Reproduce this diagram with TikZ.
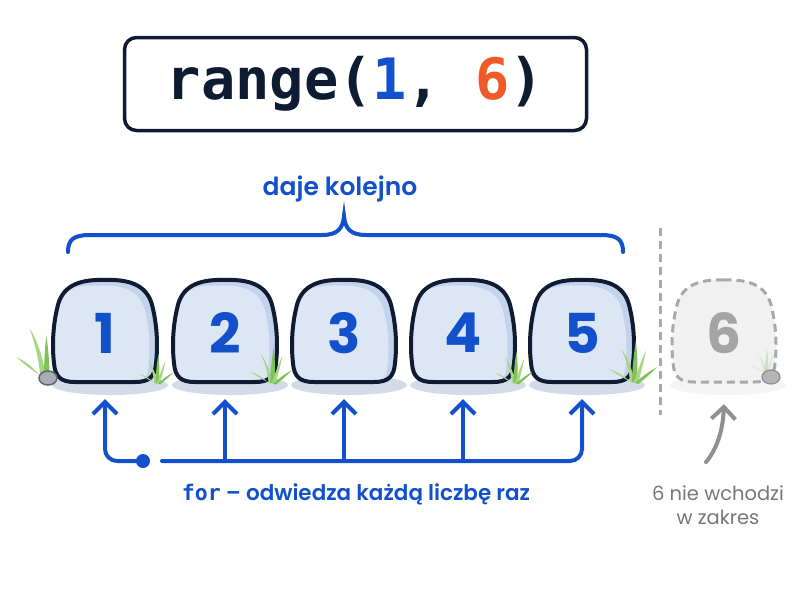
\documentclass[tikz,border=0pt]{standalone}
\usepackage{fontspec}
\setmainfont{Poppins}[BoldFont={Poppins SemiBold}]
\newfontfamily\popbold{Poppins Bold}
\newfontfamily\mono{DejaVu Sans Mono}
\usetikzlibrary{arrows.meta}
\definecolor{navy}{HTML}{0F1A33}
\definecolor{myblue}{HTML}{1250CC}
\definecolor{myorange}{HTML}{EE5A28}
\definecolor{stonelight}{HTML}{DCE6F5}
\definecolor{stonedark}{HTML}{C4D3EC}
\definecolor{shadowc}{HTML}{D3DBE8}
\definecolor{grassc}{HTML}{A8D681}
\definecolor{grassd}{HTML}{80C25A}
\definecolor{ghostfill}{HTML}{F1F1F1}
\definecolor{ghostline}{HTML}{A9A9A9}
\definecolor{ghosttext}{HTML}{A4A4A4}
\definecolor{greytext}{HTML}{777777}
\definecolor{pebblea}{HTML}{A9ADB3}
\definecolor{pebbleaedge}{HTML}{62666D}
\definecolor{pebbleb}{HTML}{B5B5B5}
\definecolor{pebblebedge}{HTML}{8E8E8E}
\tikzset{
  barb/.style={-{Straight Barb[length=12pt,width=24pt,line width=4pt]}},
  arr/.style={draw=myblue, line width=4pt, line cap=round, barb},
  stonenode/.style={minimum width=102pt, minimum height=102pt, inner sep=0pt, font=\popbold\fontsize{55}{55}\selectfont, text=myblue},
  ghostnode/.style={stonenode, text=ghosttext},
  stoneshape/.style={insert path={(0,-51) .. controls (-28,-52) and (-44,-44) .. (-48,-22) .. controls (-52,-5) and (-53,15) .. (-51,32) .. controls (-50,46) and (-44,51) .. (-30,51) -- (30,51) .. controls (44,51) and (50,46) .. (51,32) .. controls (53,15) and (52,-5) .. (48,-22) .. controls (44,-44) and (28,-52) .. (0,-51) -- cycle}},
  pics/stone/.style={code={
    \fill[shadowc] (5,54) ellipse (58pt and 10pt);
    \begin{scope}
      \clip[stoneshape];
      \fill[stonedark] (-60,-60) rectangle (60,60);
      \fill[stonelight, xshift=-6pt, yshift=-4pt, scale=0.97][stoneshape];
    \end{scope}
    \draw[navy, line width=4pt][stoneshape];
  }},
  pics/ghost/.style={code={
    \fill[ghostfill!70!white] (4,54) ellipse (58pt and 10pt);
    \filldraw[fill=ghostfill, draw=ghostline, line width=3pt, dash pattern=on 8pt off 5pt][stoneshape];
  }},
  pics/grass/.style={code={
    \fill[grassc] (-4,0) .. controls (-10,-6) and (-18,-11) .. (-27,-14) .. controls (-18,-8) and (-10,-3) .. (0,1) -- cycle;
    \fill[grassc] (-4,0) .. controls (-6,-14) and (-9,-26) .. (-14,-36) .. controls (-6,-26) and (-2,-12) .. (1,0) -- cycle;
    \fill[grassd] (-2,0) .. controls (-2,-16) and (0,-32) .. (2,-44) .. controls (4,-30) and (4,-14) .. (3,0) -- cycle;
    \fill[grassc] (0,0) .. controls (4,-12) and (8,-24) .. (13,-34) .. controls (11,-22) and (7,-10) .. (5,0) -- cycle;
    \fill[grassd] (1,1) .. controls (8,-5) and (15,-11) .. (25,-16) .. controls (17,-8) and (10,-2) .. (5,2) -- cycle;
  }},
  pics/grassleft/.style={code={
    \fill[grassc] (-3,0) .. controls (-9,-8) and (-16,-14) .. (-25,-18) .. controls (-16,-10) and (-9,-4) .. (2,1) -- cycle;
    \fill[grassc] (-3,0) .. controls (-5,-16) and (-8,-30) .. (-13,-44) .. controls (-5,-32) and (-1,-16) .. (2,0) -- cycle;
    \fill[grassd] (0,0) .. controls (0,-14) and (1,-28) .. (2,-38) .. controls (4,-26) and (5,-12) .. (5,0) -- cycle;
  }},
  pics/pebblegrey/.style={code={
    \filldraw[fill=pebblea, draw=pebbleaedge, line width=1.5pt] (0,0) ellipse (9pt and 7pt);
  }},
  pics/pebblelight/.style={code={
    \filldraw[fill=pebbleb, draw=pebblebedge, line width=1.2pt] (0,0) ellipse (9pt and 7pt);
  }},
}
\begin{document}
\begin{tikzpicture}[x=1pt,y=-1pt]
\useasboundingbox[fill=white] (0,0) rectangle (800,600);

% title
\node[draw=navy, line width=3.5pt, rounded corners=12pt, fill=white, minimum width=462pt, minimum height=93pt, inner sep=0pt, font=\mono\bfseries\fontsize{57}{57}\selectfont, text=navy] (title) at (355.5,84) {range(\textcolor{myblue}{1}, \textcolor{myorange}{6})};

% brace
\node[font=\fontsize{25}{25}\selectfont\bfseries, text=myblue] (daje) at (340,189) {daje kolejno};
\coordinate (bl) at (68,252);
\coordinate (br) at (623,252);
\draw[myblue, line width=4pt, line cap=round] (bl) .. controls (68,240) and (73,235) .. (90,235) -- (322,235) .. controls (337,235) and (343,229) .. (344,216) .. controls (345,229) and (351,235) .. (366,235) -- (601,235) .. controls (618,235) and (623,240) .. (br);

% stones
\pic at (344,331) {stone};
\pic at (105,331) {stone};
\pic at (225,331) {stone};
\pic at (463,331) {stone};
\pic at (582,331) {stone};
\pic at (724,331) {ghost};

% grass and pebbles
\pic[scale=1.1] at (44,377) {grassleft};
\pic[scale=0.65] at (157,383) {grass};
\pic[scale=0.8] at (272,383) {grass};
\pic[scale=0.72] at (515,383) {grass};
\pic[scale=0.92] at (634,382) {grass};
\pic[opacity=0.3, scale=0.55] at (766,373) {grass};
\pic at (48,378) {pebblegrey};
\pic at (771,377) {pebblelight};

\node[stonenode] (s1) at (105,333) {1};
\node[stonenode] (s2) at (225,333) {2};
\node[stonenode] (s3) at (344,333) {3};
\node[stonenode] (s4) at (463,333) {4};
\node[stonenode] (s5) at (582,333) {5};
\node[ghostnode] (s6) at (724,333) {6};

% separator
\coordinate (septop) at (660,228);
\coordinate (sepbot) at (660,415);
\draw[ghostline, line width=3pt, dash pattern=on 8pt off 5pt] (septop) -- (sepbot);

% for arrows
\coordinate (bus) at (0,461);
\coordinate (dot) at (143,461);
\coordinate (busstart) at (162,461);
\fill[myblue] (dot) circle (7pt);
\draw[arr, rounded corners=12pt, shorten >=15pt] (dot) -| (s1.south);
\draw[arr, rounded corners=12pt, shorten >=15pt] (busstart) -| (s5.south);
\draw[arr, shorten >=15pt] (s2.south |- bus) -- (s2.south);
\draw[arr, shorten >=15pt] (s3.south |- bus) -- (s3.south);
\draw[arr, shorten >=15pt] (s4.south |- bus) -- (s4.south);

\node[font=\fontsize{21.5}{21.5}\selectfont\bfseries, text=myblue] (forlabel) at (356,494) {{\mono for} – odwiedza każdą liczbę raz};

% ghost note
\node[font=\fontsize{19.5}{24}\selectfont, text=greytext, align=center] (note) at (718,505) {6 nie wchodzi\\w zakres};
\coordinate (gstart) at (706,462);
\draw[draw=ghostline!85!black, line width=4pt, line cap=round, barb] (gstart) .. controls (718,448) and (723,428) .. ([yshift=-20pt]s6.south);
\end{tikzpicture}
\end{document}
